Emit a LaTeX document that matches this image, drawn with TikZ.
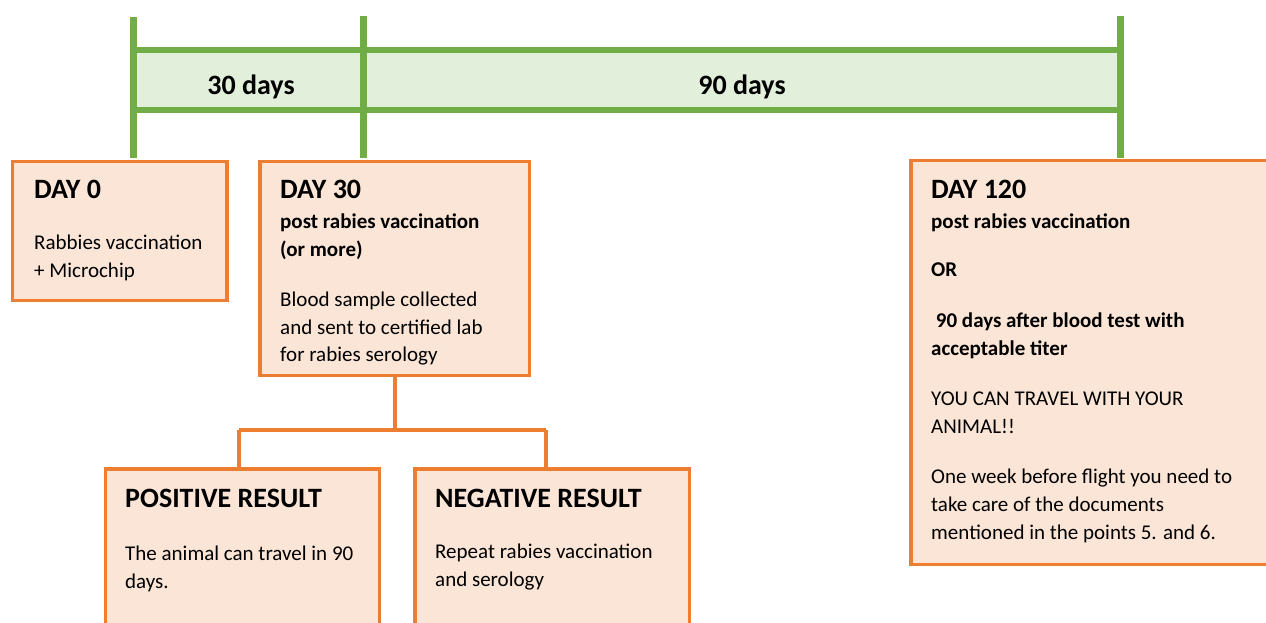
\documentclass[tikz,border=0pt]{standalone}
\usepackage{fontspec}
\setmainfont{Carlito}
\definecolor{gline}{HTML}{70AD47}
\definecolor{gfill}{HTML}{E2EFDA}
\definecolor{oline}{HTML}{ED7D31}
\definecolor{ofill}{HTML}{FBE5D6}
\tikzset{
 obox/.style={draw=oline, fill=ofill, line width=3.5bp, inner sep=0pt},
 head/.style={anchor=base west, inner sep=0pt, font=\fontsize{28bp}{32bp}\selectfont\bfseries},
 body/.style={anchor=base west, inner sep=0pt, font=\fontsize{21bp}{28bp}\selectfont},
 sub/.style={anchor=base west, inner sep=0pt, font=\fontsize{21bp}{28bp}\selectfont\bfseries},
 span/.style={anchor=base, inner sep=0pt, font=\fontsize{28bp}{32bp}\selectfont\bfseries},
 gv/.style={draw=gline, line width=7bp},
 gh/.style={draw=gline, line width=5.5bp},
 conn/.style={draw=oline, line width=4bp},
}
\begin{document}
\begin{tikzpicture}[x=1bp,y=-1bp]
\clip (0,0) rectangle (1266,623);
\useasboundingbox (0,0) rectangle (1266,623);
% timeline
\fill[gfill] (133,50) rectangle (1120,110);
\draw[gh] (133,50) -- (1120,50);
\draw[gh] (133,110) -- (1120,110);
\draw[gv] (133,17) -- (133,158);
\draw[gv] (363,16) -- (363,158);
\draw[gv] (1120,16) -- (1120,158);
\node[span] (t30) at (251,95) {30 days};
\node[span] (t90) at (742,95) {90 days};
% boxes
\node[obox, minimum width=214.5bp, minimum height=139bp] (d0) at (119.75,231) {};
\node[obox, minimum width=269.5bp, minimum height=213.5bp] (d30) at (394.5,268.5) {};
\node[obox, minimum width=369.25bp, minimum height=403.5bp] (d120) at (1095.4,362.5) {};
\node[obox, minimum width=273.5bp, minimum height=231.25bp] (pos) at (242.5,584.4) {};
\node[obox, minimum width=274.5bp, minimum height=231.25bp] (neg) at (552,584.4) {};
% connectors
\coordinate (j) at (394.5,430);
\coordinate (pj) at (239,430);
\coordinate (nj) at (546,430);
\draw[conn] (d30.south) -- (j);
\draw[conn] (pj) -- (nj);
\draw[conn] (pj) -- (pj |- pos.north);
\draw[conn] (nj) -- (nj |- neg.north);
% DAY 0 text
\node[head] (h0) at (34,199) {DAY 0};
\node[body] (b01) at (34,250) {Rabbies vaccination};
\node[body] (b02) at (34,278) {+ Microchip};
% DAY 30 text
\begin{scope}
\clip (259,162) rectangle (529,364);
\node[head] (h30) at (280,199) {DAY 30};
\node[sub] (s301) at (280,229) {post rabies vaccination};
\node[sub] (s302) at (280,257) {(or more)};
\node[body] (b301) at (280,307) {Blood sample collected};
\node[body] (b302) at (280,335) {and sent to certified lab};
\node[body] (b303) at (280,362) {for rabies serology};
\end{scope}
% DAY 120 text
\node[head] (h120) at (931,199) {DAY 120};
\node[sub] (s1201) at (931,229) {post rabies vaccination};
\node[sub] (s1202) at (931,277) {OR};
\node[sub] (s1203) at (931,328) {\ 90 days after blood test with};
\node[sub] (s1204) at (931,356) {acceptable titer};
\node[body] (b1201) at (931,405) {YOU CAN TRAVEL WITH YOUR};
\node[body] (b1202) at (931,433) {ANIMAL!!};
\node[body] (b1203) at (931,483) {One week before flight you need to};
\node[body] (b1204) at (931,511) {take care of the documents};
\node[body] (b1205) at (931,539) {mentioned in the points 5. and 6.};
% results
\node[head] (hp) at (125,507) {POSITIVE RESULT};
\node[body] (bp1) at (125,560) {The animal can travel in 90};
\node[body] (bp2) at (125,588) {days.};
\node[head] (hn) at (435,507) {NEGATIVE RESULT};
\node[body] (bn1) at (435,558) {Repeat rabies vaccination};
\node[body] (bn2) at (435,586) {and serology};
\end{tikzpicture}
\end{document}
